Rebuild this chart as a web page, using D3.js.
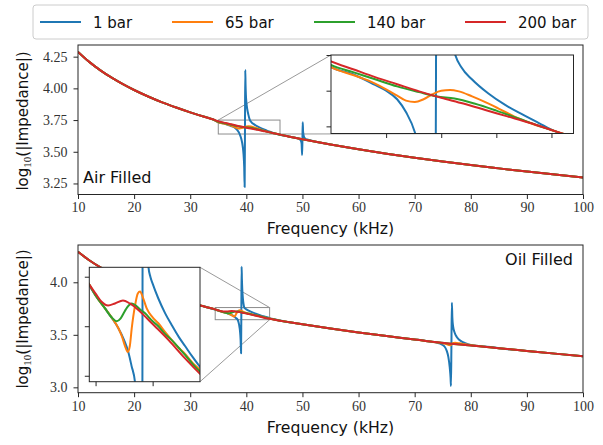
<!DOCTYPE html>
<html lang="en">
<head>
<meta charset="UTF-8">
<title>Impedance</title>
<script src="https://cdn.jsdelivr.net/npm/d3@7"></script>
<style>
body { margin: 0; background: #fff; }
text { font-family: "DejaVu Sans", sans-serif; fill: #111; }
.tick text { font-family: "Liberation Serif", "DejaVu Serif", serif; font-size: 14px; fill: #333; }
</style>
</head>
<body>
<script>

var w = 603;
var h = 445;

var labels = ["1 bar", "65 bar", "140 bar", "200 bar"];
var colors = ["#1f77b4", "#ff7f0e", "#2ca02c", "#d62728"];

var xTicks = [10, 20, 30, 40, 50, 60, 70, 80, 90, 100];
var airYTicks = [3.25, 3.5, 3.75, 4.0, 4.25];
var oilYTicks = [3.0, 3.5, 4.0];
var airInsetXTicks = [37.5, 40, 42.5, 45];
var airInsetYTicks = [3.65, 3.70, 3.75];
var oilInsetXTicks = [35, 40];
var oilInsetYTicks = [3.65, 3.70, 3.75];

// [kHz, log10|Z|], away from the resonances
var airBase = [[10, 4.288], [12, 4.209], [14, 4.142], [16, 4.084], [18, 4.033], [20, 3.987],
    [22.5, 3.936], [25, 3.890], [27.5, 3.849], [30, 3.811], [32.5, 3.776], [34, 3.756],
    [47.5, 3.621], [50, 3.599], [55, 3.558], [60, 3.520], [65, 3.485], [70, 3.453],
    [75, 3.423], [80, 3.395], [85, 3.369], [90, 3.344], [95, 3.320], [100, 3.298]];

// air filled, around the 40 kHz (and 50 kHz) resonances
var airBlue = [[35, 3.733], [36, 3.723], [37, 3.708], [37.5, 3.700], [38, 3.688], [38.4, 3.670],
    [38.8, 3.642], [39.1, 3.602], [39.35, 3.545], [39.5, 3.480], [39.62, 3.380], [39.70, 3.222],
    [39.76, 3.700], [39.81, 4.145], [39.86, 4.030], [39.92, 3.950], [40.0, 3.895], [40.15, 3.840],
    [40.35, 3.795], [40.6, 3.754], [40.93, 3.732], [41.39, 3.716], [42.14, 3.696], [42.9, 3.680],
    [43.66, 3.667], [44.41, 3.655], [45.17, 3.643], [46, 3.634], [47.5, 3.621], [48.5, 3.612],
    [49.3, 3.603], [49.7, 3.590], [49.85, 3.565], [49.94, 3.474], [50.0, 3.600], [50.05, 3.732],
    [50.12, 3.655], [50.3, 3.615], [50.6, 3.601], [51.0, 3.595], [51.5, 3.589]];
var airOrange = [[35, 3.733], [36, 3.722], [37, 3.710], [37.5, 3.702], [38, 3.693], [38.4, 3.686],
    [38.8, 3.684], [39.2, 3.688], [39.6, 3.695], [40.0, 3.700], [40.4, 3.701], [40.8, 3.699],
    [41.4, 3.692], [42.0, 3.684], [42.6, 3.675], [43.3, 3.664], [44.0, 3.655], [45.0, 3.645], [46.0, 3.635]];
var airGreen = [[35, 3.736], [36, 3.726], [37, 3.716], [38, 3.706], [39, 3.698], [39.8, 3.692],
    [40.6, 3.689], [41.5, 3.682], [42.5, 3.672], [43.5, 3.661], [44.5, 3.650], [46, 3.635]];
var airRed = [[35, 3.741], [36, 3.730], [37, 3.719], [38, 3.709], [39, 3.699], [40, 3.690],
    [41, 3.682], [42, 3.673], [43, 3.664], [44, 3.655], [45, 3.645], [46, 3.635]];

var oilBase = [[10, 4.291], [12, 4.210], [14, 4.142], [16, 4.083], [18, 4.031], [20, 3.984],
    [22.5, 3.932], [25, 3.885], [27.5, 3.843], [30, 3.804], [32.5, 3.769],
    [48, 3.617], [50, 3.600], [55, 3.560], [60, 3.523], [65, 3.488], [70, 3.456], [72, 3.442],
    [74, 3.430], [76.5, 3.416], [79, 3.404], [82, 3.389], [85, 3.373], [90, 3.347], [95, 3.321], [100, 3.297]];

// oil filled, around 39 kHz
var oilBlue39 = [[34.45, 3.741], [35.0, 3.731], [35.83, 3.718], [36.5, 3.707], [37.0, 3.698],
    [37.5, 3.686], [37.87, 3.674], [38.15, 3.660], [38.46, 3.643], [38.7, 3.600], [38.88, 3.530],
    [38.98, 3.450], [39.06, 3.324], [39.11, 3.700], [39.16, 4.149], [39.21, 4.030], [39.28, 3.930],
    [39.38, 3.850], [39.5, 3.795], [39.63, 3.760], [39.8, 3.750], [40.0, 3.743], [40.5, 3.728],
    [41.1, 3.713], [41.68, 3.701], [42.3, 3.689], [42.84, 3.680], [43.5, 3.669], [44.15, 3.659],
    [45, 3.648], [46, 3.636]];
var oilOrange39 = [[34.45, 3.742], [35.0, 3.731], [35.83, 3.718], [36.4, 3.709], [37.0, 3.698],
    [37.3, 3.690], [37.58, 3.680], [37.82, 3.674], [38.0, 3.680], [38.17, 3.698], [38.46, 3.721],
    [38.7, 3.733], [38.9, 3.735], [39.15, 3.729], [39.48, 3.718], [40.0, 3.709], [40.5, 3.703],
    [41.1, 3.694], [41.68, 3.686], [42.3, 3.678], [42.84, 3.672], [43.5, 3.663], [44.15, 3.656],
    [45, 3.646], [46, 3.635]];
var oilGreen39 = [[34.45, 3.742], [35.0, 3.731], [35.83, 3.718], [36.4, 3.709], [36.85, 3.705],
    [37.2, 3.708], [37.6, 3.716], [37.9, 3.721], [38.17, 3.723], [38.5, 3.721], [38.9, 3.717],
    [39.34, 3.713], [40.0, 3.705], [40.5, 3.700], [41.1, 3.692], [41.68, 3.686], [42.3, 3.678],
    [42.84, 3.671], [43.5, 3.662], [44.15, 3.654], [45, 3.645], [46, 3.634]];
var oilRed39 = [[34.45, 3.742], [35.0, 3.733], [35.5, 3.725], [36.1, 3.721], [36.7, 3.723],
    [37.4, 3.726], [38.0, 3.723], [38.8, 3.716], [39.5, 3.708], [40.2, 3.700], [41.4, 3.686],
    [42.8, 3.668], [44.15, 3.652], [45, 3.643], [46, 3.634]];

// oil filled, around 76.5 kHz
var oilBlue76 = [[73, 3.433], [74, 3.424], [74.8, 3.410], [75.3, 3.390], [75.7, 3.350], [76.0, 3.290],
    [76.25, 3.190], [76.4, 3.090], [76.47, 3.013], [76.55, 3.400], [76.63, 3.806], [76.72, 3.660],
    [76.85, 3.580], [77.13, 3.520], [77.5, 3.480], [78.0, 3.450], [78.6, 3.430], [79.5, 3.410],
    [81, 3.396], [82.5, 3.389], [84, 3.381]];
var oilOrange76 = [[73, 3.434], [74.5, 3.424], [75.5, 3.414], [76.1, 3.404], [76.45, 3.401],
    [76.7, 3.418], [77.2, 3.424], [78, 3.419], [79, 3.410], [80.5, 3.398]];

function merge(base, windows) {
    var pts = base.filter(function(p) {
        return !windows.some(function(wd) { return p[0] >= wd[0][0] && p[0] <= wd[wd.length - 1][0]; });
    });
    windows.forEach(function(wd) { pts = pts.concat(wd); });
    return pts.sort(function(a, b) { return a[0] - b[0]; });
}

var airSeries = [merge(airBase, [airBlue]), merge(airBase, [airOrange]),
                 merge(airBase, [airGreen]), merge(airBase, [airRed])];
var oilSeries = [merge(oilBase, [oilBlue39, oilBlue76]), merge(oilBase, [oilOrange39, oilOrange76]),
                 merge(oilBase, [oilGreen39]), merge(oilBase, [oilRed39])];

var svg = d3.select("body").append("svg")
    .attr("width", w)
    .attr("height", h);

var clipCount = 0;

function drawLines(g, series, x, y, box) {
    var id = "clip" + (clipCount++);
    svg.append("clipPath").attr("id", id)
        .append("rect")
        .attr("x", box[0]).attr("y", box[1])
        .attr("width", box[2] - box[0]).attr("height", box[3] - box[1]);
    var line = d3.line()
        .x(function(d) { return x(d[0]); })
        .y(function(d) { return y(d[1]); })
        .curve(d3.curveMonotoneX);
    g.append("g").attr("clip-path", "url(#" + id + ")")
        .selectAll("path")
        .data(series)
        .enter()
        .append("path")
        .attr("d", line)
        .attr("fill", "none")
        .attr("stroke", function(d, i) { return colors[i]; })
        .attr("stroke-width", 2)
        .attr("stroke-linejoin", "round");
}

function frame(g, box) {
    g.append("rect")
        .attr("x", box[0]).attr("y", box[1])
        .attr("width", box[2] - box[0]).attr("height", box[3] - box[1])
        .attr("fill", "none")
        .attr("stroke", "#262626")
        .attr("stroke-width", 1);
}

function axes(g, x, y, box, xt, yt, fmtX, fmtY) {
    var ax = g.append("g").attr("transform", "translate(0," + box[3] + ")")
        .call(d3.axisBottom(x).tickValues(xt).tickFormat(fmtX).tickSize(4.5).tickPadding(3.5).tickSizeOuter(0));
    var ay = g.append("g").attr("transform", "translate(" + box[0] + ",0)")
        .call(d3.axisLeft(y).tickValues(yt).tickFormat(fmtY).tickSize(4.5).tickPadding(6).tickSizeOuter(0));
    [ax, ay].forEach(function(a) {
        a.select(".domain").remove();
        a.selectAll(".tick line").attr("stroke", "#262626");
    });
}

function drawPanel(o) {
    var g = svg.append("g");
    var box = [o.left, o.top, o.right, o.bottom];
    var x = d3.scaleLinear().domain([10, 100]).range([o.left, o.right]);
    var y = d3.scaleLinear().domain(o.ylim).range([o.bottom, o.top]);

    // zoom marker and connectors
    var r = o.inset;
    var rx0 = x(r.xlim[0]), rx1 = x(r.xlim[1]), ry0 = y(r.ylim[1]), ry1 = y(r.ylim[0]);
    g.append("rect")
        .attr("x", rx0).attr("y", ry0)
        .attr("width", rx1 - rx0).attr("height", ry1 - ry0)
        .attr("fill", "none").attr("stroke", "#8c8c8c").attr("stroke-width", 1);
    var corners = { ul: [[rx0, ry0], [r.box[0], r.box[1]]], ur: [[rx1, ry0], [r.box[2], r.box[1]]],
                    lr: [[rx1, ry1], [r.box[2], r.box[3]]] };
    r.links.forEach(function(k) {
        var c = corners[k];
        g.append("line")
            .attr("x1", c[0][0]).attr("y1", c[0][1])
            .attr("x2", c[1][0]).attr("y2", c[1][1])
            .attr("stroke", "#9a9a9a").attr("stroke-width", 1);
    });

    drawLines(g, o.series, x, y, box);
    frame(g, box);
    axes(g, x, y, box, xTicks, o.yTicks, d3.format("d"), d3.format(o.yFmt));

    g.append("text")
        .attr("x", (o.left + o.right) / 2)
        .attr("y", o.xLabelY)
        .attr("text-anchor", "middle")
        .attr("font-size", 15.7)
        .text("Frequency (kHz)");

    var yl = g.append("text")
        .attr("transform", "translate(28," + o.yLabelC + ") rotate(-90)")
        .attr("text-anchor", "middle")
        .attr("font-size", 15);
    yl.append("tspan").text("log");
    yl.append("tspan").attr("font-family", "Liberation Serif, serif").attr("font-size", 11)
        .attr("baseline-shift", "-3").text("10");
    yl.append("tspan").text("(|Impedance|)");

    g.append("text")
        .attr("x", o.noteX).attr("y", o.noteY)
        .attr("text-anchor", o.noteAnchor)
        .attr("font-size", 16)
        .text(o.note);

    // inset
    var ig = g.append("g");
    var ix = d3.scaleLinear().domain(r.xlim).range([r.box[0], r.box[2]]);
    var iy = d3.scaleLinear().domain(r.ylim).range([r.box[3], r.box[1]]);
    ig.append("rect")
        .attr("x", r.box[0]).attr("y", r.box[1])
        .attr("width", r.box[2] - r.box[0]).attr("height", r.box[3] - r.box[1])
        .attr("fill", "#fff");
    drawLines(ig, o.series, ix, iy, r.box);
    frame(ig, r.box);
    axes(ig, ix, iy, r.box, r.xTicks, r.yTicks, function() { return ""; }, function() { return ""; });
}

drawPanel({
    left: 78, right: 583, top: 45, bottom: 194.5,
    ylim: [3.163, 4.342], yTicks: airYTicks, yFmt: ".2f",
    series: airSeries, xLabelY: 234, yLabelC: 121,
    note: "Air Filled", noteX: 83, noteY: 183, noteAnchor: "start",
    inset: { box: [331, 55, 573.5, 133.5], xlim: [35, 46], ylim: [3.64, 3.75],
             xTicks: airInsetXTicks, yTicks: airInsetYTicks, links: ["ul", "lr"] }
});

drawPanel({
    left: 78, right: 583, top: 245, bottom: 392.7,
    ylim: [2.949, 4.355], yTicks: oilYTicks, yFmt: ".1f",
    series: oilSeries, xLabelY: 433, yLabelC: 319,
    note: "Oil Filled", noteX: 573, noteY: 265, noteAnchor: "end",
    inset: { box: [89.3, 267.3, 200, 381.7], xlim: [34.45, 44.15], ylim: [3.644, 3.7595],
             xTicks: oilInsetXTicks, yTicks: oilInsetYTicks, links: ["ur", "lr"] }
});

// legend
var legendX = [40, 172, 314, 465];
var legend = svg.append("g");
legend.append("rect")
    .attr("x", 33).attr("y", 5)
    .attr("width", 555).attr("height", 34)
    .attr("rx", 3)
    .attr("fill", "#fff").attr("fill-opacity", 0.8)
    .attr("stroke", "#cccccc").attr("stroke-width", 1);
var item = legend.selectAll("g.item")
    .data(labels)
    .enter()
    .append("g")
    .attr("class", "item")
    .attr("transform", function(d, i) { return "translate(" + legendX[i] + ",22)"; });
item.append("line")
    .attr("x1", 0).attr("x2", 41)
    .attr("stroke", function(d, i) { return colors[i]; })
    .attr("stroke-width", 2);
item.append("text")
    .attr("x", 53).attr("y", 5.5)
    .attr("font-size", 15)
    .text(function(d) { return d; });

</script>
</body>
</html>
